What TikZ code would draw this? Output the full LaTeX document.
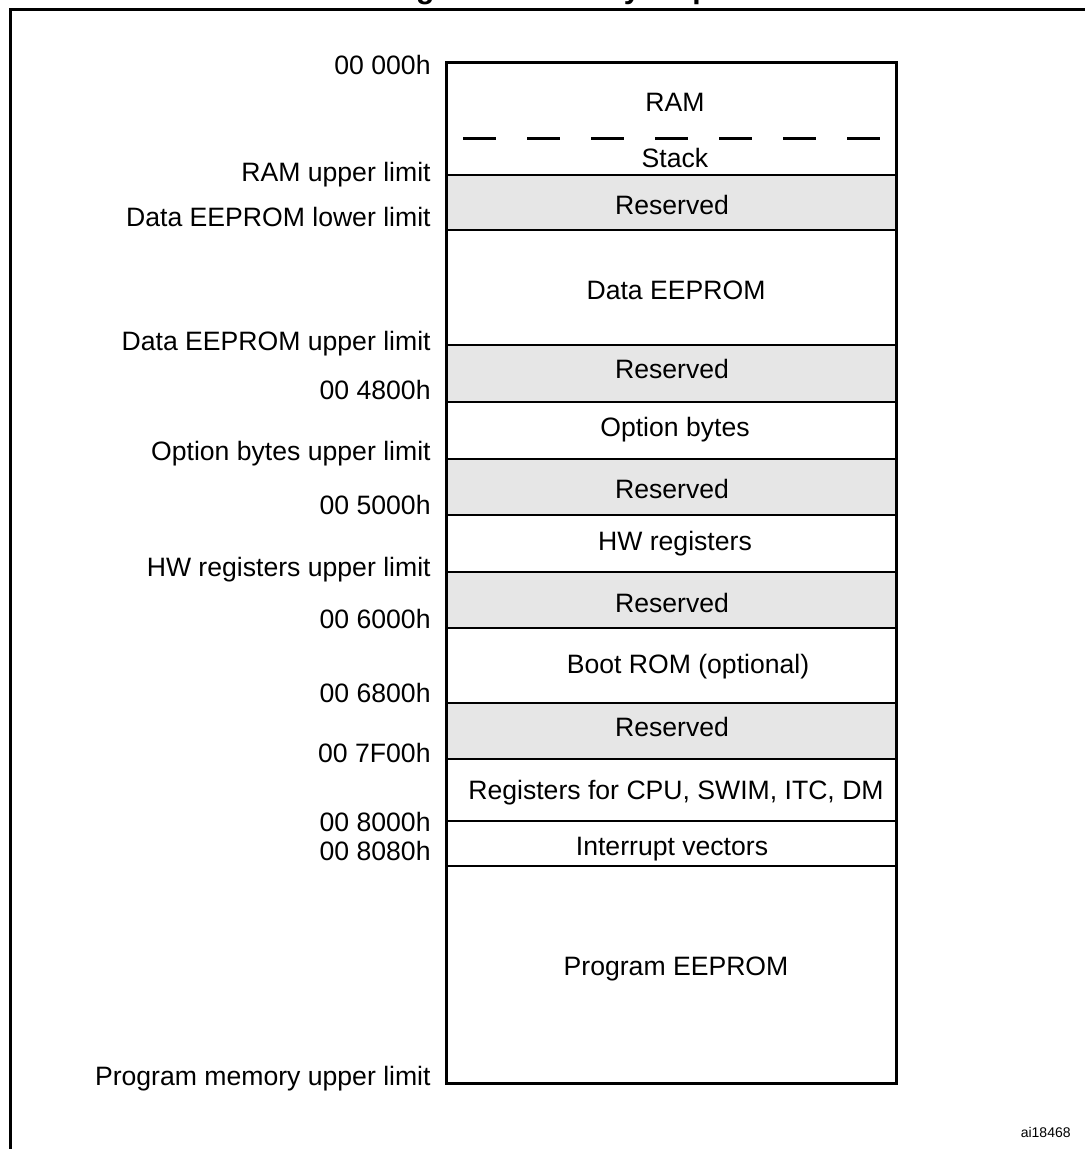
\documentclass[tikz,border=0pt]{standalone}
\usepackage{fontspec}
\setmainfont{Liberation Sans}
\usepackage{xcolor}
\definecolor{resgray}{HTML}{E6E6E6}

\begin{document}
\begin{tikzpicture}[x=0.5pt,y=-0.5pt,
    addr/.style={anchor=base east,inner sep=0pt,font=\fontsize{13.3}{16}\selectfont},
    area/.style={anchor=base,inner sep=0pt,font=\fontsize{13.3}{16}\selectfont},
    sep/.style={line width=1pt}]
    \useasboundingbox (0,0) rectangle (1084,1149);
    % title (cut by the page) and frame
    \node[anchor=base,inner sep=0pt,font=\bfseries\fontsize{15}{18}\selectfont] (title) at (550,-1) {Figure 8. Memory map};
    \draw[line width=1.5pt] (10,1160) -- (10,10) -- (1100,10);
    % reserved areas
    \fill[resgray] (446,175) rectangle (896,230);
    \fill[resgray] (446,345) rectangle (896,402);
    \fill[resgray] (446,459) rectangle (896,515);
    \fill[resgray] (446,572) rectangle (896,628);
    \fill[resgray] (446,703) rectangle (896,759);
    % area limits
    \draw[sep] (446,175) -- (896,175);
    \draw[sep] (446,230) -- (896,230);
    \draw[sep] (446,345) -- (896,345);
    \draw[sep] (446,402) -- (896,402);
    \draw[sep] (446,459) -- (896,459);
    \draw[sep] (446,515) -- (896,515);
    \draw[sep] (446,572) -- (896,572);
    \draw[sep] (446,628) -- (896,628);
    \draw[sep] (446,703) -- (896,703);
    \draw[sep] (446,759) -- (896,759);
    \draw[sep] (446,821) -- (896,821);
    \draw[sep] (446,866) -- (896,866);
    \draw[line width=1.5pt, dash pattern=on 16.5pt off 15.5pt] (463,139) -- (884,139);
    \draw[line width=1.5pt] (446,63) rectangle (896,1083);
    % area names
    \node[area] (ram) at (675,112) {RAM};
    \node[area] (stack) at (675,168) {Stack};
    \node[area] (res1) at (672,215) {Reserved};
    \node[area] (deep) at (676,300) {Data EEPROM};
    \node[area] (res2) at (672,379) {Reserved};
    \node[area] (opt) at (675,437) {Option bytes};
    \node[area] (res3) at (672,498) {Reserved};
    \node[area] (hwreg) at (675,550) {HW registers};
    \node[area] (res4) at (672,612) {Reserved};
    \node[area] (boot) at (688,673) {Boot ROM (optional)};
    \node[area] (res5) at (672,736) {Reserved};
    \node[area] (cpureg) at (676,799) {Registers for CPU, SWIM, ITC, DM};
    \node[area] (irq) at (672,855) {Interrupt vectors};
    \node[area] (prog) at (676,975) {Program EEPROM};
    % addresses
    \node[addr] (a0) at (431,75) {00 000h};
    \node[addr] (a1) at (431,182) {RAM upper limit};
    \node[addr] (a2) at (431,227) {Data EEPROM lower limit};
    \node[addr] (a3) at (431,351) {Data EEPROM upper limit};
    \node[addr] (a4) at (431,400) {00 4800h};
    \node[addr] (a5) at (431,460) {Option bytes upper limit};
    \node[addr] (a6) at (431,514) {00 5000h};
    \node[addr] (a7) at (431,576) {HW registers upper limit};
    \node[addr] (a8) at (431,628) {00 6000h};
    \node[addr] (a9) at (431,702) {00 6800h};
    \node[addr] (a10) at (431,762) {00 7F00h};
    \node[addr] (a11) at (431,831) {00 8000h};
    \node[addr] (a12) at (431,860) {00 8080h};
    \node[addr] (a13) at (431,1085) {Program memory upper limit};
    \node[anchor=base east,inner sep=0pt,font=\fontsize{7}{8}\selectfont] (ref) at (1071,1137) {ai18468};
\end{tikzpicture}
\end{document}
